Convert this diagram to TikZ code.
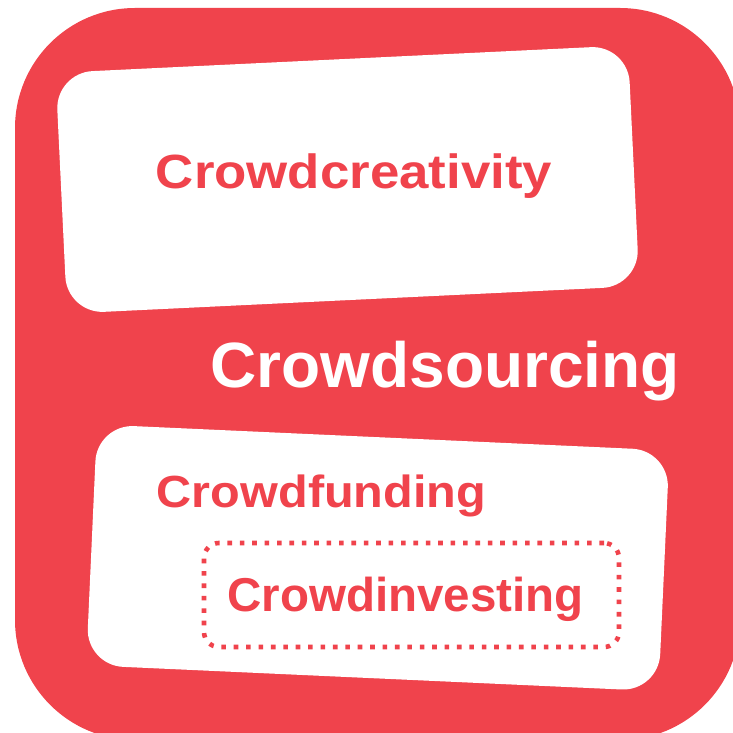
\documentclass[tikz,border=0pt]{standalone}
\usepackage{fontspec}
\setmainfont{Liberation Sans}
\definecolor{crowdred}{RGB}{240,67,76}
\newcommand\crowdfont[1]{\bfseries\fontsize{#1}{#1}\selectfont}
\tikzset{
    panel/.style={fill=white, draw=none, rounded corners=37pt, inner sep=0pt,
        minimum width=573pt, minimum height=241pt},
    crowdword/.style={text=crowdred, anchor=base, inner sep=0pt},
    dotbox/.style={draw=crowdred, line width=4.6pt, dash pattern=on 4.6pt off 7.8pt,
        rounded corners=15pt, minimum width=415pt, minimum height=104pt}
}
\begin{document}
\begin{tikzpicture}[x=1pt,y=1pt]
        \clip (0,0) rectangle (733,732);
        \fill[crowdred] (15,-8) [rounded corners=120pt] rectangle (740,724);
        \node[panel, rotate=2.75] (creabox) at (347.5,552.5) {};
        \node[panel, rotate=-2.6] (fundbox) at (377.8,174.2) {};
        \node[dotbox] (investbox) at (411.5,137) {};
        \node[crowdword] (crea) at (354,543) {\crowdfont{48}\scalebox{1.1}[1]{Crowdcreativity}};
        \node[crowdword, text=white] (sourcing) at (445,345) {\crowdfont{64}Crowdsourcing};
        \node[crowdword] (funding) at (321.5,225) {\crowdfont{45}\scalebox{1.08}[1]{Crowdfunding}};
        \node[crowdword] (investing) at (405.5,121) {\crowdfont{47.5}Crowdinvesting};
\end{tikzpicture}
\end{document}
